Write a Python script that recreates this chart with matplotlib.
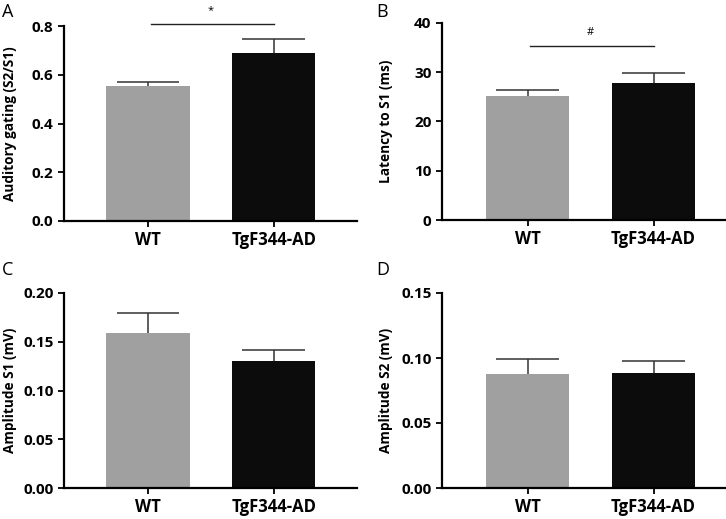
import numpy as np
import matplotlib as mpl
import matplotlib.pyplot as plt

mpl.rcParams["font.family"] = ["Open Sans", "DejaVu Sans"]
mpl.rcParams["font.weight"] = "bold"

# ===== Data =====
groups = ["WT", "TgF344-AD"]
bar_colors = ["#a0a0a0", "#0c0c0c"]

gating_mean = [0.553, 0.688]
gating_sem = [0.017, 0.060]

latency_mean = [25.2, 27.9]
latency_sem = [1.2, 2.0]

amp_s1_mean = [0.159, 0.130]
amp_s1_sem = [0.020, 0.012]

amp_s2_mean = [0.088, 0.0885]
amp_s2_sem = [0.011, 0.009]

panels = [
    # letter, mean, sem, ylabel, ymax, ticks, fmt, significance mark, sig line y
    ("A", gating_mean, gating_sem, "Auditory gating (S2/S1)", 0.8,
     [0.0, 0.2, 0.4, 0.6, 0.8], "{:.1f}", "*", 0.807),
    ("B", latency_mean, latency_sem, "Latency to S1 (ms)", 40,
     [0, 10, 20, 30, 40], "{:.0f}", "#", 35.3),
    ("C", amp_s1_mean, amp_s1_sem, "Amplitude S1 (mV)", 0.20,
     [0.00, 0.05, 0.10, 0.15, 0.20], "{:.2f}", None, None),
    ("D", amp_s2_mean, amp_s2_sem, "Amplitude S2 (mV)", 0.15,
     [0.00, 0.05, 0.10, 0.15], "{:.2f}", None, None),
]

# axes rectangles in figure fraction (left, bottom, width, height)
W, H = 726, 519
rects = [
    (64 / W, 1 - 221 / H, (357 - 64) / W, (221 - 26) / H),
    (442 / W, 1 - 220 / H, (726 - 442) / W, (220 - 23) / H),
    (64 / W, 1 - 488 / H, (357 - 64) / W, (488 - 293) / H),
    (442 / W, 1 - 488 / H, (726 - 442) / W, (488 - 293) / H),
]
xlims = [(-0.667, 1.66), (-0.68, 1.575), (-0.667, 1.66), (-0.68, 1.575)]
label_x = [-0.186, -0.197, -0.186, -0.197]

fig = plt.figure(figsize=(W / 100, H / 100), dpi=100)

x = np.arange(len(groups))
bar_width = 0.66
cap_half = 0.25

for i, (letter, mean, sem, ylabel, ymax, ticks, fmt, mark, sig_y) in enumerate(panels):
    ax = fig.add_axes(rects[i])
    mean = np.array(mean)
    sem = np.array(sem)
    ax.bar(x, mean, width=bar_width, color=bar_colors, zorder=2)
    # upper-only error bars
    ax.vlines(x, mean, mean + sem, color="#333333", lw=1.1, zorder=3)
    ax.hlines(mean + sem, x - cap_half, x + cap_half, color="#333333", lw=1.1, zorder=3)

    ax.set_xlim(*xlims[i])
    ax.set_ylim(0, ymax)
    ax.set_yticks(ticks)
    ax.set_yticklabels([fmt.format(t) for t in ticks], fontsize=11, fontweight="bold")
    ax.set_xticks(x)
    ax.set_xticklabels(groups, fontsize=12, fontweight="bold")
    ax.set_ylabel(ylabel, fontsize=9.8, fontweight="bold", va="center")
    ax.yaxis.set_label_coords(label_x[i], 0.5)

    for side in ["top", "right"]:
        ax.spines[side].set_visible(False)
    for side in ["left", "bottom"]:
        ax.spines[side].set_linewidth(1.6)
    ax.tick_params(axis="both", direction="out", length=4.5, width=1.4, color="#111111")
    ax.tick_params(axis="x", pad=3)
    ax.tick_params(axis="y", pad=3)

    if mark is not None:
        ax.plot([x[0] + 0.02, x[1]], [sig_y, sig_y], color="#222222", lw=1.0,
                clip_on=False)
        ax.text((x[0] + x[1]) / 2, sig_y + ymax * 0.04, mark, ha="center",
                va="bottom", fontsize=8, fontweight="normal")

# panel letters
fig.text(2 / W, 1 - 12 / H, "A", fontsize=13, fontweight="normal", va="center")
fig.text(376 / W, 1 - 12 / H, "B", fontsize=13, fontweight="normal", va="center")
fig.text(2 / W, 1 - 270 / H, "C", fontsize=13, fontweight="normal", va="center")
fig.text(376 / W, 1 - 270 / H, "D", fontsize=13, fontweight="normal", va="center")

plt.savefig("out.png", dpi=100)
